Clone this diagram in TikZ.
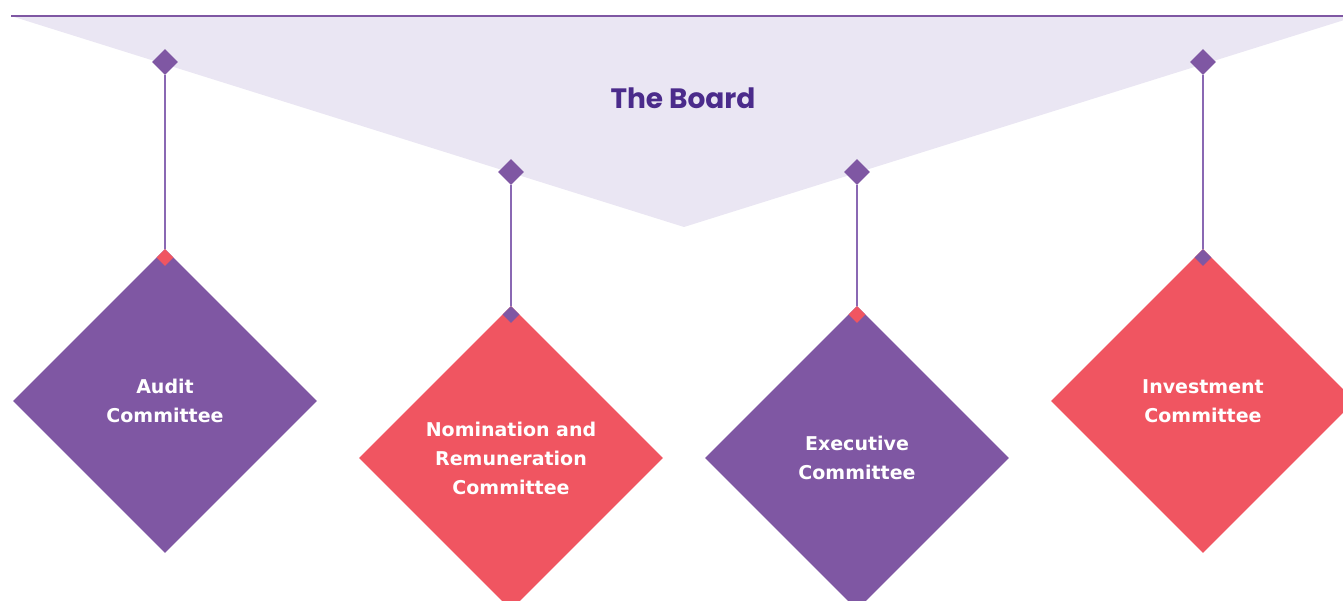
\documentclass[tikz,border=0pt]{standalone}
\usepackage{fontspec}
\setmainfont{DejaVu Sans}
\newfontfamily\titlefont{Poppins}
\usetikzlibrary{shapes.geometric}
\definecolor{cpurple}{HTML}{7F57A3}
\definecolor{cred}{HTML}{F05561}
\definecolor{clav}{HTML}{EAE6F3}
\definecolor{ctitle}{HTML}{4B2B8B}
\definecolor{cline}{HTML}{8A68B3}
\tikzset{
  bigdia/.style={diamond, aspect=1, inner sep=0pt, minimum width=304pt, minimum height=304pt,
    text=white, font=\fontsize{19}{29}\selectfont\bfseries, align=center},
  topdia/.style={diamond, aspect=1, inner sep=0pt, minimum width=26pt, minimum height=26pt, fill=cpurple},
  joindia/.style={diamond, aspect=1, inner sep=0pt, minimum width=17pt, minimum height=17pt},
  hanger/.style={draw=cline, line width=1.5pt}
}
\begin{document}
\begin{tikzpicture}[x=1pt,y=-1pt]
\useasboundingbox (0,0) rectangle (1343,600);
\clip (0,0) rectangle (1343,600);
% board banner
\fill[clav] (11,16) -- (1357,16) -- (684,227) -- cycle;
\draw[cpurple, line width=2pt] (11,16) -- (1343,16);
\node[text=ctitle, font=\titlefont\fontsize{28}{32}\selectfont\bfseries] (board) at (683,98) {The Board};
% committees
\node[bigdia, fill=cpurple] (audit) at (165,401) {Audit\\Committee};
\node[bigdia, fill=cred] (nom) at (511,458) {Nomination and\\Remuneration\\Committee};
\node[bigdia, fill=cpurple] (exec) at (857,458) {Executive\\Committee};
\node[bigdia, fill=cred] (inv) at (1203,401) {Investment\\Committee};
% top diamonds
\node[topdia] (t1) at (165,62) {};
\node[topdia] (t2) at (511,172) {};
\node[topdia] (t3) at (857,172) {};
\node[topdia] (t4) at (1203,62) {};
% join diamonds
\node[joindia, fill=cred, anchor=north] (j1) at (audit.north) {};
\node[joindia, fill=cpurple, anchor=north] (j2) at (nom.north) {};
\node[joindia, fill=cred, anchor=north] (j3) at (exec.north) {};
\node[joindia, fill=cpurple, anchor=north] (j4) at (inv.north) {};
% hangers
\draw[hanger] (t1.south) -- (j1.north);
\draw[hanger] (t2.south) -- (j2.north);
\draw[hanger] (t3.south) -- (j3.north);
\draw[hanger] (t4.south) -- (j4.north);
\end{tikzpicture}
\end{document}
